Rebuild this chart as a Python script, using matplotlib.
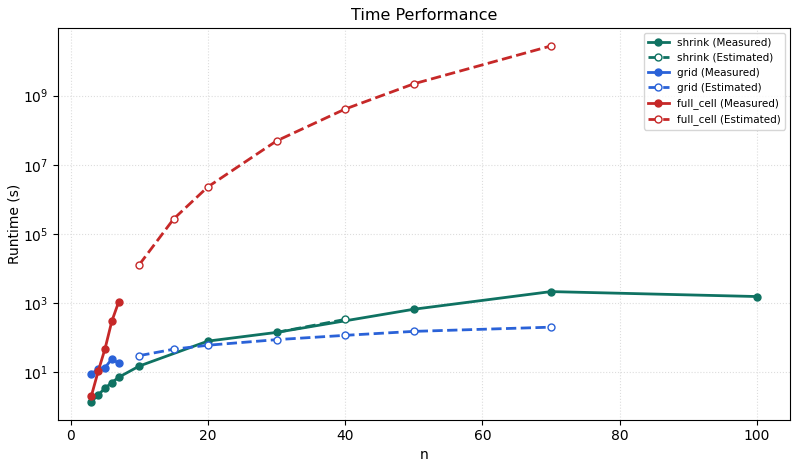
import numpy as np
import matplotlib
matplotlib.use("Agg")
import matplotlib.pyplot as plt

# measured / estimated runtimes (s)
shrink_n = [3, 4, 5, 6, 7, 10, 20, 30, 50, 70, 100]
shrink_t = [1.37, 2.2, 3.4, 5.0, 7.1, 15, 79, 141, 660, 2140, 1540]
shrink_est_n = [30, 40]
shrink_est_t = [141, 335]

grid_n = [3, 4, 5, 6, 7]
grid_t = [8.7, 12.5, 13.5, 24, 18]
grid_est_n = [10, 15, 20, 30, 40, 50, 70]
grid_est_t = [30, 46, 60, 87, 116, 151, 200]

full_n = [3, 4, 5, 6, 7]
full_t = [2.0, 10.5, 47, 300, 1080]
full_est_n = [10, 15, 20, 30, 40, 50, 70]
full_est_t = [1.29e4, 2.7e5, 2.3e6, 4.9e7, 4.1e8, 2.2e9, 2.75e10]

green = '#0f7262'
blue = '#2a62d8'
red = '#c62828'

fig, ax = plt.subplots(figsize=(8, 4.69), dpi=100)
fig.subplots_adjust(left=0.0725, right=0.9875, top=0.94, bottom=0.105)

ax.plot(shrink_n, shrink_t, '-o', color=green, lw=2, ms=5, label='shrink (Measured)')
ax.plot(shrink_est_n, shrink_est_t, '--o', color=green, lw=2, ms=5,
        markerfacecolor='white', markevery=[1], label='shrink (Estimated)')
ax.plot(grid_n, grid_t, '-o', color=blue, lw=2, ms=5, label='grid (Measured)')
ax.plot(grid_est_n, grid_est_t, '--o', color=blue, lw=2, ms=5,
        markerfacecolor='white', label='grid (Estimated)')
ax.plot(full_n, full_t, '-o', color=red, lw=2, ms=5, label='full_cell (Measured)')
ax.plot(full_est_n, full_est_t, '--o', color=red, lw=2, ms=5,
        markerfacecolor='white', label='full_cell (Estimated)')

ax.set_yscale('log')
ax.set_xlabel('n', labelpad=3)
ax.set_ylabel('Runtime (s)', labelpad=1)
ax.set_title('Time Performance', fontsize=11.5)
ax.grid(True, linestyle=':', color='#dddddd', linewidth=0.8)
ax.legend(loc='upper right', fontsize=7.5)

fig.savefig('out.png')
